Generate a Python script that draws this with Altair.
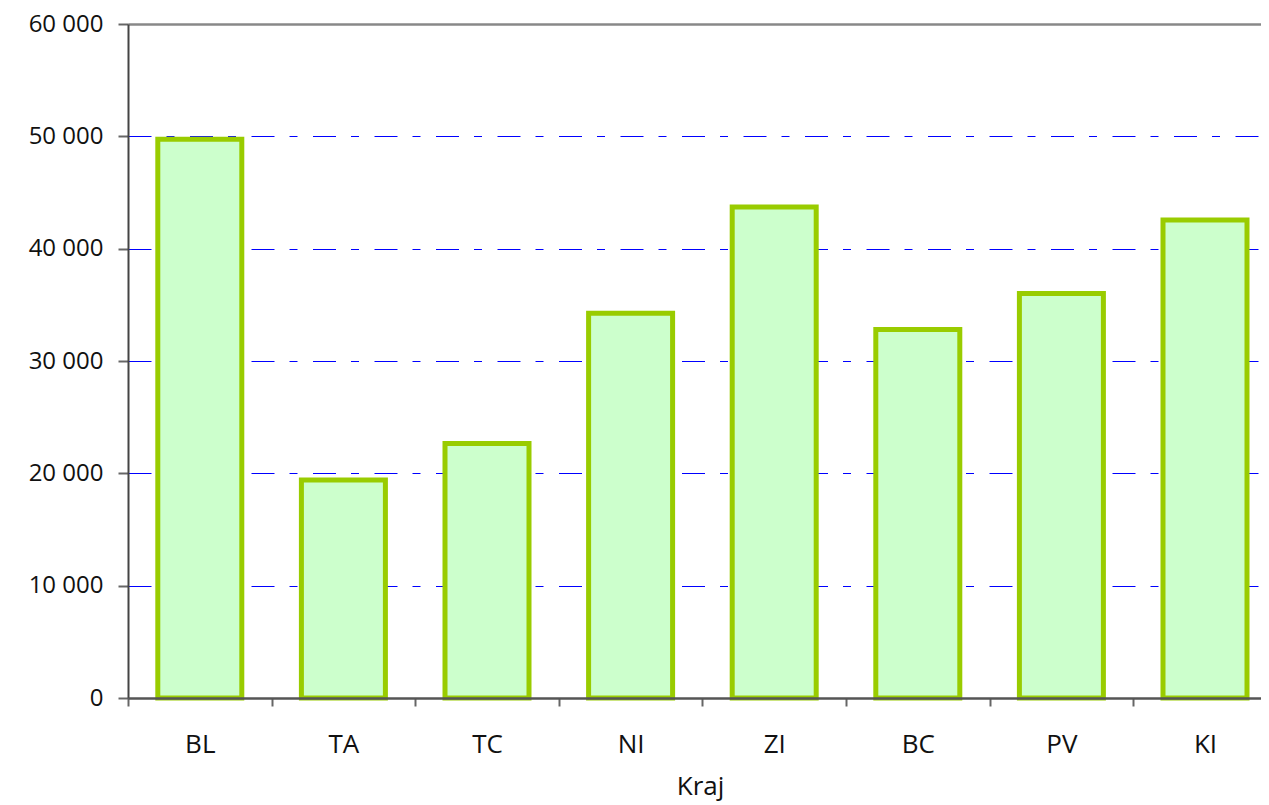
import json
import altair as alt
import pandas as pd

regions = ["BL", "TA", "TC", "NI", "ZI", "BC", "PV", "KI"]
values = [49750, 19400, 22650, 34250, 43700, 32800, 36000, 42550]
y_ticks = [0, 10000, 20000, 30000, 40000, 50000, 60000]

df = pd.DataFrame({"Kraj": regions, "idx": list(range(len(regions))), "value": values})

FONT = "Open Sans"
W = 1133
H = 674
STEP = 143.6  # pixel width of one category slot
x_max = -0.5 + W / STEP
boundaries = [i - 0.5 for i in range(len(regions))]
label_expr = json.dumps(regions) + "[round(datum.value + 0.5)]"

chart = alt.Chart(df).mark_bar(
    fill="#ccffcc", stroke="#99cc00", strokeWidth=5, width=84
).encode(
    x=alt.X(
        "idx:Q",
        scale=alt.Scale(domain=[-0.5, x_max], nice=False, zero=False, padding=0),
        axis=alt.Axis(
            title="Kraj",
            values=boundaries,
            labelExpr=label_expr,
            labelAngle=0,
            labelFont=FONT,
            labelFontSize=26,
            labelColor="#111",
            labelPadding=25,
            labelOffset=STEP / 2,
            labelFlush=False,
            labelOverlap=False,
            titleFont=FONT,
            titleFontSize=26,
            titleFontWeight="normal",
            titleColor="#111",
            titleBaseline="alphabetic",
            titleY=96,
            titleX=572,
            tickSize=8,
            tickWidth=2,
            tickColor="#666",
            domainColor="#555",
            domainWidth=2.5,
            grid=False,
            zindex=1,
        ),
    ),
    y=alt.Y(
        "value:Q",
        scale=alt.Scale(domain=[0, 60000], nice=False),
        axis=alt.Axis(
            title=None,
            values=y_ticks,
            labelExpr="replace(format(datum.value, ','), ',', ' ')",
            labelFont=FONT,
            labelFontSize=24,
            labelColor="#111",
            labelPadding=15,
            tickSize=10,
            tickWidth=2,
            tickColor="#666",
            domainColor="#444",
            domainWidth=2,
            grid=True,
            gridColor=alt.condition("datum.value == 60000", alt.value("#888888"), alt.value("#0000ff")),
            gridDash=alt.condition("datum.value == 60000", alt.value([]), alt.value([23, 15, 8, 15.5])),
            gridWidth=alt.condition("datum.value == 60000", alt.value(2.5), alt.value(1)),
        ),
    ),
).properties(
    width=W,
    height=H,
    autosize=alt.AutoSizeParams(type="none"),
    padding={"left": 120, "top": 16, "right": 0, "bottom": 106},
).configure_view(stroke=None)

chart.save("out.html", embed_options={"renderer": "svg", "actions": False})
